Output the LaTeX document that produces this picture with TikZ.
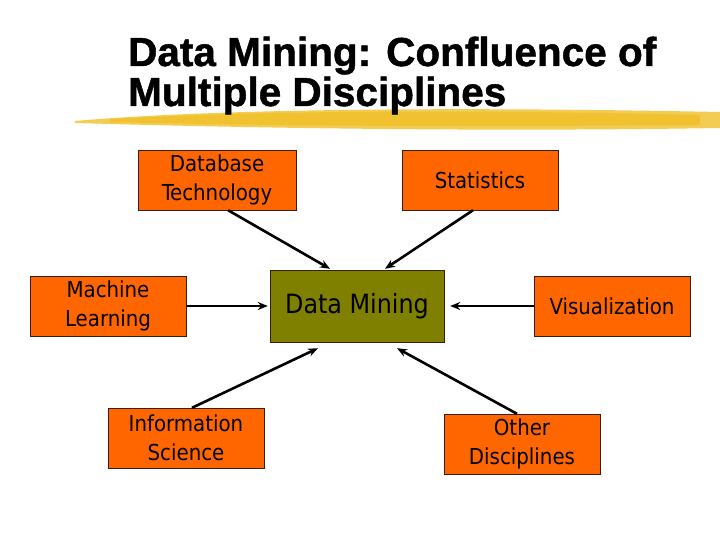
\documentclass[tikz,border=0pt]{standalone}
\usepackage{fontspec}
\setmainfont{DejaVu Sans Condensed}
\newfontfamily\titlefont{Liberation Sans Bold}[FakeBold=1.2]
\usepackage{xcolor}
\definecolor{orng}{RGB}{255,102,0}
\definecolor{olive}{RGB}{128,128,0}
\definecolor{brush}{RGB}{240,192,40}
\definecolor{edgec}{RGB}{60,30,10}
\usetikzlibrary{calc,positioning,arrows.meta}
\tikzset{
  disc/.style={rectangle, draw=edgec, fill=orng, thin, minimum width=156pt, minimum height=60pt, align=center, inner sep=2pt,
    font=\fontsize{22}{29}\selectfont},
  core/.style={rectangle, draw=edgec, fill=olive, thin, minimum width=174pt, minimum height=72pt, align=center,
    font=\fontsize{26.5}{29}\selectfont},
  ttl/.style={anchor=base west, inner sep=0pt, font=\titlefont\fontsize{40.5}{40}\selectfont},
  line/.style={draw, line width=2.6pt, -{Stealth[length=10pt,width=8pt]}},
}
\begin{document}
\begin{tikzpicture}[x=1pt, y=-1pt]
  \useasboundingbox[fill=white] (0,0) rectangle (720,540);
  % brush stroke under the title
  \fill[brush!80] (75,121) .. controls (200,110) and (420,106) .. (720,112) -- (720,128) .. controls (480,132) and (250,128) .. (75,123) -- cycle;
  \fill[brush, opacity=0.8] (110,119) .. controls (260,111) and (450,109) .. (700,115) -- (700,125) .. controls (450,127) and (260,126) .. (110,122) -- cycle;
  \node[ttl] (title) at (128,66) {Data Mining: Confluence of};
  \node[ttl] (title2) at (128,106) {Multiple Disciplines};

  \node[core] (dm) at (357,306) {Data Mining};
  \node[disc, minimum width=158pt] (dbt) at (217,180) {Database\\Technology};
  \node[disc] (stat) at (480,180) {Statistics};
  \node[disc] (ml) at (108,306) {Machine\\Learning};
  \node[disc] (vis) at (612,306) {Visualization};
  \node[disc] (is) at (186,438) {Information\\Science};
  \node[disc] (od) at (522,444) {Other\\Disciplines};

  \path[line] ($(dbt.south)+(11,0)$) -- ($(dm.north)+(-27,-1)$);
  \path[line] ($(stat.south)+(-7,0)$) -- ($(dm.north)+(28,-1)$);
  \path[line, shorten >=2pt] (ml.east) -- (dm.west);
  \path[line, shorten >=6pt] (vis.west) -- (dm.east);
  \path[line] ($(is.north)+(6,0)$) -- ($(dm.south)+(-39,6)$);
  \path[line] ($(od.north)+(-5,0)$) -- ($(dm.south)+(40,6)$);
\end{tikzpicture}
\end{document}
